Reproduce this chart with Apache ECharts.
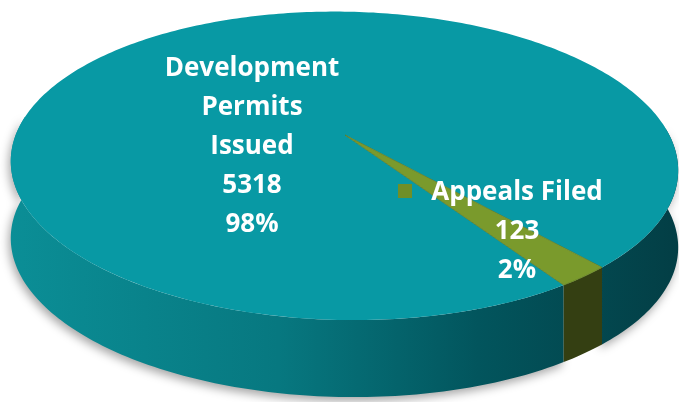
<!DOCTYPE html>
<html>
<head>
<meta charset="utf-8">
<script src="https://cdn.jsdelivr.net/npm/echarts@6/dist/echarts.min.js"></script>
<style>
  html, body { margin: 0; padding: 0; background: #fff; }
  #chart { width: 679px; height: 402px; }
</style>
</head>
<body>
<div id="chart"></div>
<script>
// 数据
const categories = ['Development\nPermits\nIssued', 'Appeals Filed']
const values = [5318, 123]

// 样式
const topColors = ['#0899a4', '#7a9a2c']
const sideColors = [null, '#343f12']
const labelPos = [[252, 147], [517, 232]]
const labelKey = [false, true]

// 3D 饼图几何参数（透视投影）
const CX = 345, CY = 135      // 圆心投影位置
const SX = 327, SY = 148      // 水平 / 垂直缩放
const PERSP = 0.2             // 透视强度
const ROT = 1 * Math.PI / 180 // 轻微旋转
const DEPTH = 77              // 厚度
const START = 55.6            // 起始角度（顺时针，度）

const total = values.reduce((a, b) => a + b, 0)

const proj = (deg, drop) => {
  const t = deg * Math.PI / 180
  const u = Math.cos(t), v = Math.sin(t)
  const d = 1 - PERSP * v
  const x0 = SX * u / d, y0 = SY * v / d
  return [
    CX + x0 * Math.cos(ROT) - y0 * Math.sin(ROT),
    CY + x0 * Math.sin(ROT) + y0 * Math.cos(ROT) + (drop || 0)
  ]
}

const arc = (a0, a1, drop) => {
  const pts = []
  const n = Math.max(2, Math.ceil(Math.abs(a1 - a0)))
  for (let k = 0; k <= n; k++) pts.push(proj(a0 + (a1 - a0) * k / n, drop))
  return pts
}

// 可见侧面的角度范围
const wallRanges = (a0, a1) => {
  const out = []
  for (let k = -1; k <= 1; k++) {
    const lo = Math.max(a0, -5 + 360 * k), hi = Math.min(a1, 185 + 360 * k)
    if (hi > lo) out.push([lo, hi])
  }
  return out
}

const tealSide = new echarts.graphic.LinearGradient(11, 0, 679, 0, [
  { offset: 0, color: '#0b8e96' },
  { offset: 0.4, color: '#077880' },
  { offset: 0.7, color: '#02555d' },
  { offset: 1, color: '#033e45' }
], true)

const renderItem = (params, api) => {
  const i = params.dataIndex
  const v = api.value(0)
  const cum = values.slice(0, i).reduce((a, b) => a + b, 0)
  const a0 = START + 360 * cum / total
  const a1 = a0 + 360 * v / total
  const children = []

  wallRanges(a0, a1).forEach(([lo, hi]) => {
    const pts = arc(lo, hi, 0).concat(arc(hi, lo, DEPTH))
    children.push({
      type: 'polygon',
      shape: { points: pts },
      style: i === 0
        ? { fill: tealSide, shadowBlur: 10, shadowColor: 'rgba(0,0,0,0.35)', shadowOffsetX: -2, shadowOffsetY: 4 }
        : { fill: sideColors[i] }
    })
  })

  children.push({
    type: 'polygon',
    shape: { points: [[CX, CY]].concat(arc(a0, a1, 0)) },
    style: { fill: topColors[i], stroke: i === 0 ? null : '#5f7c22', lineWidth: 0.8 }
  })

  const [lx, ly] = labelPos[i]
  const pct = Math.round(v / total * 100)
  children.push({
    type: 'text',
    style: {
      text: categories[i] + '\n' + v + '\n' + pct + '%',
      x: lx, y: ly,
      fill: '#ffffff',
      fontFamily: 'Open Sans',
      fontWeight: 'bold',
      fontSize: 26,
      lineHeight: 39,
      align: 'center',
      verticalAlign: 'middle'
    }
  })
  if (labelKey[i]) {
    children.push({
      type: 'rect',
      shape: { x: lx - 119, y: ly - 48, width: 14, height: 14 },
      style: { fill: '#6f8f28' }
    })
  }
  return { type: 'group', children }
}

const chart = echarts.init(document.getElementById('chart'))
chart.setOption({
  animation: false,
  series: [{
    type: 'custom',
    coordinateSystem: 'none',
    renderItem,
    data: values.map((v, i) => ({ name: categories[i], value: v }))
  }]
})
</script>
</body>
</html>
